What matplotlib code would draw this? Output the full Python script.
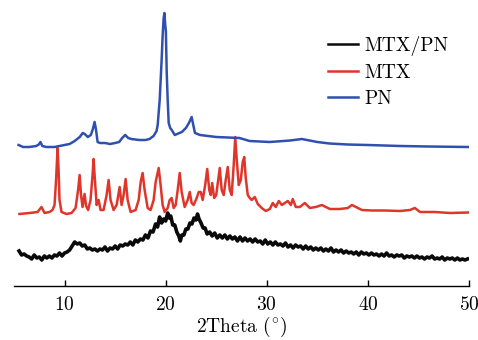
import matplotlib
matplotlib.use("Agg")
import matplotlib.pyplot as plt

plt.rcParams['font.family'] = ['cmr10', 'DejaVu Serif']
plt.rcParams['mathtext.fontset'] = 'cm'
plt.rcParams['axes.formatter.use_mathtext'] = True

# ---- data (2theta in degrees, intensity in a.u., already offset for stacking) ----
pn_x = [5.45, 5.9, 6.5, 7.2, 7.45, 7.62, 7.8, 8.2, 9.0, 9.5, 10.0, 10.5, 11.0, 11.5,
        11.8, 12.0, 12.3, 12.6, 12.8, 12.97, 13.1, 13.27, 13.5, 14.0, 14.5, 15.0,
        15.4, 15.7, 16.0, 16.3, 16.6, 17.4, 18.0, 18.4, 18.8, 19.1, 19.21, 19.41,
        19.6, 19.7, 19.8, 19.88, 19.95, 20.02, 20.1, 20.2, 20.3, 20.45, 20.6, 20.9,
        21.6, 22.0, 22.3, 22.57, 22.75, 22.9, 23.4, 25.0, 27.3, 28.3, 30.3, 32.3,
        33.47, 35.0, 36.2, 38.0, 40.0, 43.2, 46.0, 49.9]
pn_y = [141, 139, 139, 140, 141.5, 144, 140, 139, 139, 140, 141, 142, 145, 149,
        153, 152, 149, 151, 157, 164, 157, 144, 143, 143, 142, 143,
        144, 148, 151, 148, 147, 146, 146, 147, 150, 155, 161, 186,
        226, 250, 268, 273, 262, 255, 215, 186, 163, 158, 156, 151,
        154, 158, 163, 169, 160, 153, 151, 149, 148, 145, 144, 145.5,
        147, 144, 142.5, 141.5, 141, 140, 139.5, 139]

mtx_x = [5.54, 6.53, 7.33, 7.72, 8.02, 8.51, 8.81, 9.01, 9.16, 9.31, 9.41, 9.5, 9.7,
         10.2, 10.69, 11.09, 11.34, 11.49, 11.63, 11.78, 11.98, 12.13, 12.33, 12.57,
         12.77, 12.87, 12.97, 13.17, 13.37, 13.56, 13.86, 14.16, 14.36, 14.55, 14.85,
         15.15, 15.45, 15.64, 15.84, 16.04, 16.24, 16.53, 17.03, 17.33, 17.53, 17.72,
         17.92, 18.22, 18.51, 18.81, 19.01, 19.16, 19.31, 19.5, 19.7, 19.9, 20.2,
         20.4, 20.59, 20.79, 20.99, 21.19, 21.39, 21.58, 21.88, 22.18, 22.38, 22.57,
         22.77, 23.07, 23.27, 23.47, 23.66, 23.91, 24.11, 24.31, 24.46, 24.6, 24.8,
         25.0, 25.2, 25.35, 25.54, 25.74, 25.94, 26.14, 26.34, 26.53, 26.73, 26.88,
         27.03, 27.23, 27.43, 27.62, 27.77, 27.92, 28.12, 28.32, 28.51, 28.81, 29.11,
         29.5, 29.9, 30.3, 30.59, 30.89, 31.19, 31.49, 31.78, 32.08, 32.38, 32.57,
         32.87, 33.27, 33.76, 34.26, 34.85, 35.45, 36.24, 37.23, 38.02, 38.42, 38.81,
         39.41, 40.4, 41.68, 43.17, 44.16, 44.65, 45.15, 46.63, 48.12, 49.9]
mtx_y = [72, 73, 74, 79, 73, 74, 76, 81, 106, 138, 116, 86, 74,
         72, 73, 78, 96, 111, 91, 79, 92, 80, 76, 86,
         111, 127, 111, 81, 86, 76, 76, 91, 106, 86, 76,
         81, 99, 81, 91, 107, 86, 74, 76, 86, 104, 113,
         96, 78, 76, 86, 104, 111, 118, 101, 81, 74, 78,
         86, 88, 78, 81, 96, 113, 94, 79, 86, 94, 83,
         81, 88, 94, 94, 86, 101, 117, 96, 91, 103, 88,
         91, 106, 118, 96, 91, 106, 119, 96, 91, 121, 149,
         126, 101, 106, 124, 129, 108, 91, 88, 86, 89, 82,
         78, 75, 77, 83, 79, 85, 81, 83, 85, 81, 87,
         79, 79, 83, 78, 79, 81, 77, 77, 78, 81, 79,
         76, 75.5, 75.5, 75, 76, 78, 74, 74, 73, 73.5]

mix_x = [5.5, 5.75, 6.0, 6.25, 6.5, 6.75, 7.0, 7.25, 7.5, 7.75, 8.0, 8.25, 8.5, 8.75,
         9.0, 9.25, 9.5, 9.75, 10.0, 10.25, 10.5, 10.75, 11.0, 11.25, 11.5, 11.75,
         12.0, 12.25, 12.5, 12.75, 13.0, 13.25, 13.5, 13.75, 14.0, 14.25, 14.5, 14.75,
         15.0, 15.25, 15.5, 15.75, 16.0, 16.25, 16.5, 16.75, 17.0, 17.25, 17.5, 17.75,
         18.0, 18.25, 18.5, 18.75, 19.0, 19.2, 19.4, 19.6, 19.8, 20.0, 20.2, 20.35,
         20.5, 20.7, 20.9, 21.1, 21.3, 21.45, 21.6, 21.8, 22.0, 22.2, 22.4, 22.6,
         22.8, 23.0, 23.15, 23.3, 23.5, 23.7, 23.9, 24.1, 24.35, 24.6, 24.85, 25.1,
         25.35, 25.6, 25.85, 26.1, 26.35, 26.6, 26.85, 27.1, 27.35, 27.6, 27.85, 28.1,
         28.35, 28.6, 28.85, 29.1, 29.35, 29.6, 29.85, 30.1, 30.35, 30.6, 30.85, 31.1,
         31.35, 31.6, 31.85, 32.1, 32.35, 32.6, 32.85, 33.1, 33.35, 33.6, 33.85, 34.1,
         34.35, 34.6, 34.85, 35.1, 35.35, 35.6, 35.85, 36.1, 36.35, 36.6, 36.85, 37.1,
         37.35, 37.6, 37.85, 38.1, 38.35, 38.6, 38.85, 39.1, 39.35, 39.6, 39.85, 40.1,
         40.35, 40.6, 40.85, 41.1, 41.35, 41.6, 41.85, 42.1, 42.35, 42.6, 42.85, 43.1,
         43.35, 43.6, 43.85, 44.1, 44.35, 44.6, 44.85, 45.1, 45.35, 45.6, 45.85, 46.1,
         46.35, 46.6, 46.85, 47.1, 47.35, 47.6, 47.85, 48.1, 48.35, 48.6, 48.85, 49.1,
         49.35, 49.6, 49.85]
mix_y = [35, 31, 32, 30, 29, 27, 31, 28, 29, 26, 30, 28, 30, 28,
         31, 30, 33, 30, 33, 34, 36, 40, 44, 42, 43, 40,
         41, 37, 38, 36, 37, 35, 37, 36, 39, 35, 38, 37,
         40, 37, 41, 40, 42, 41, 44, 41, 46, 44, 47, 46,
         51, 48, 55, 54, 62, 59, 69, 63, 67, 65, 73, 68,
         70, 61, 61, 54, 50, 45, 51, 51, 57, 57, 63, 62,
         68, 66, 72, 67, 63, 58, 58, 52, 54, 50, 53, 48,
         51, 48, 51, 47, 50, 47, 49, 45, 49, 45, 48, 45,
         47, 44, 47, 44, 45, 42, 46, 42, 44, 41, 44, 41,
         42, 40, 43, 39, 41, 38, 41, 39, 40, 37, 40, 37,
         39, 36, 38, 36, 38, 35, 37, 35, 38, 34, 36, 34,
         36, 33, 35, 33, 34, 32, 34, 31, 34, 32, 33, 31,
         33, 31, 32, 30, 32, 30, 33, 30, 31, 29, 31, 30,
         31, 28, 30, 29, 30, 28, 30, 28, 29, 27, 29, 28,
         30, 27, 28, 27, 29, 26, 28, 27, 28, 26, 28, 26,
         27, 26, 27]

labels = ['MTX/PN', 'MTX', 'PN']
colors = ['#0a0a0a', '#e0352b', '#3050b0']
xticks = [10, 20, 30, 40, 50]

fig = plt.figure(figsize=(4.78, 3.40), dpi=100)
ax = fig.add_axes([14/478, 54/340, 455/478, 281/340])

ax.plot(mix_x, mix_y, color=colors[0], lw=2.6, label=labels[0])
ax.plot(mtx_x, mtx_y, color=colors[1], lw=1.8, label=labels[1])
ax.plot(pn_x, pn_y, color=colors[2], lw=1.8, label=labels[2])

ax.set_xlim(5, 50)
ax.set_ylim(0, 281)
ax.set_xticks(xticks)
ax.set_yticks([])
for s in ['left', 'right', 'top']:
    ax.spines[s].set_visible(False)
ax.spines['bottom'].set_linewidth(1.0)
ax.tick_params(axis='x', direction='in', length=4, width=1.0, labelsize=14, pad=7)
ax.set_xlabel(r'2Theta ($^{\circ}$)', fontsize=14, labelpad=1)

leg = ax.legend(loc='upper left', bbox_to_anchor=(328/478, 1 - 36/340), bbox_transform=fig.transFigure,
                frameon=False, fontsize=14, handlelength=1.55, handletextpad=0.3,
                labelspacing=0.42, borderpad=0, borderaxespad=0)
for line in leg.get_lines():
    line.set_linewidth(1.8)

fig.savefig('out.png', dpi=100)
